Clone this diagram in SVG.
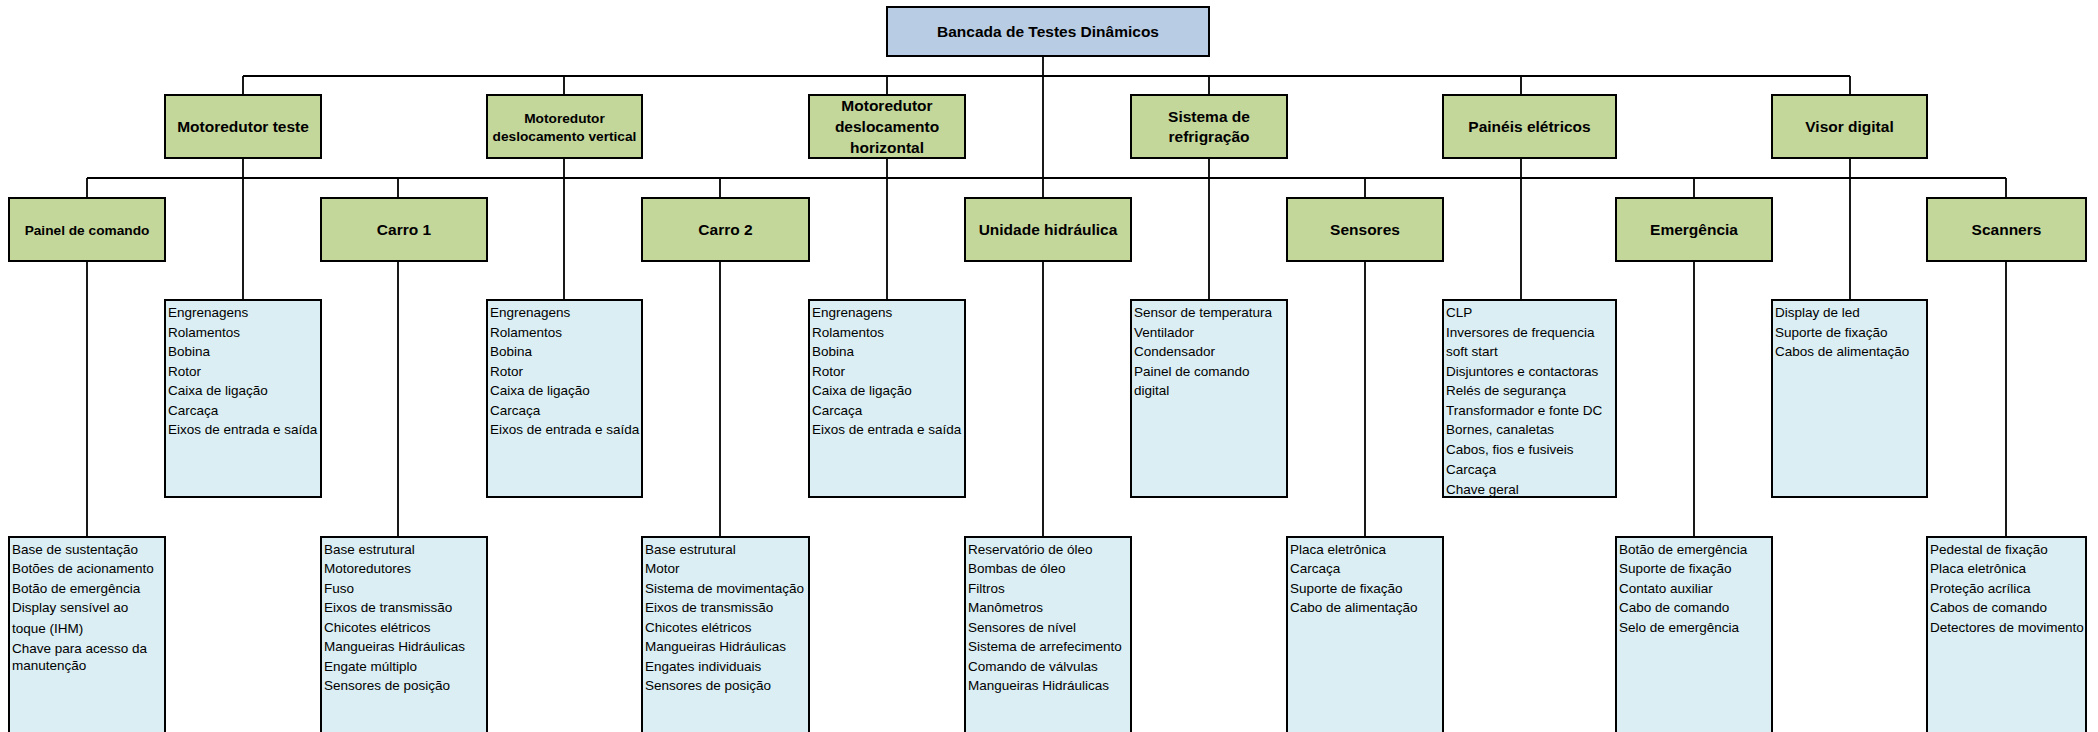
<svg xmlns="http://www.w3.org/2000/svg" width="2098" height="732" viewBox="0 0 2098 732">
<style>
.root{fill:#B8CCE4;stroke:#000;stroke-width:2}
.box{fill:#C4D79B;stroke:#000;stroke-width:2}
.det{fill:#DAEEF3;stroke:#000;stroke-width:2}
.t{font-family:"Liberation Sans",Arial,sans-serif;font-weight:bold;font-size:15.5px;fill:#000;text-anchor:middle}
.ts{font-size:13.7px}
.d{font-family:"Liberation Sans",Arial,sans-serif;font-size:13.5px;fill:#000}
.c{stroke:#000;stroke-width:1.8;fill:none}
</style>
<rect width="2098" height="732" fill="#fff"/>
<g id="connectors">
<path class="c" d="M1043 56V198"/>
<path class="c" d="M243 76H1850"/>
<path class="c" d="M243 76V95M564 76V95M887 76V95M1209 76V95M1521 76V95M1850 76V95"/>
<path class="c" d="M243 158V300M564 158V300M887 158V300M1209 158V300M1521 158V300M1850 158V300"/>
<path class="c" d="M87 178H2006"/>
<path class="c" d="M87 178V198M398 178V198M720 178V198M1365 178V198M1694 178V198M2006 178V198"/>
<path class="c" d="M87 261V537M398 261V537M720 261V537M1043 261V537M1365 261V537M1694 261V537M2006 261V537"/>
</g>
<g id="root"><rect class="root" x="887" y="7" width="322" height="49"/><text class="t" x="1048" y="37">Bancada de Testes Dinâmicos</text></g>
<g id="motoredutor-teste"><rect class="box" x="165" y="95" width="156" height="63"/><text class="t" x="243" y="132">Motoredutor teste</text></g>
<g id="motoredutor-vertical"><rect class="box" x="487" y="95" width="155" height="63"/><text class="t ts" x="564.5" y="123">Motoredutor</text><text class="t ts" x="564.5" y="141">deslocamento vertical</text></g>
<g id="motoredutor-horizontal"><rect class="box" x="809" y="95" width="156" height="63"/><text class="t" x="887" y="111">Motoredutor</text><text class="t" x="887" y="132">deslocamento</text><text class="t" x="887" y="152.5">horizontal</text></g>
<g id="sistema-refrigracao"><rect class="box" x="1131" y="95" width="156" height="63"/><text class="t" x="1209" y="122">Sistema de</text><text class="t" x="1209" y="142">refrigração</text></g>
<g id="paineis-eletricos"><rect class="box" x="1443" y="95" width="173" height="63"/><text class="t" x="1529.5" y="132">Painéis elétricos</text></g>
<g id="visor-digital"><rect class="box" x="1772" y="95" width="155" height="63"/><text class="t" x="1849.5" y="132">Visor digital</text></g>
<g id="painel-comando"><rect class="box" x="9" y="198" width="156" height="63"/><text class="t ts" x="87" y="234.5">Painel de comando</text></g>
<g id="carro-1"><rect class="box" x="321" y="198" width="166" height="63"/><text class="t" x="404" y="234.5">Carro 1</text></g>
<g id="carro-2"><rect class="box" x="642" y="198" width="167" height="63"/><text class="t" x="725.5" y="234.5">Carro 2</text></g>
<g id="unidade-hidraulica"><rect class="box" x="965" y="198" width="166" height="63"/><text class="t" x="1048" y="234.5">Unidade hidráulica</text></g>
<g id="sensores"><rect class="box" x="1287" y="198" width="156" height="63"/><text class="t" x="1365" y="234.5">Sensores</text></g>
<g id="emergencia"><rect class="box" x="1616" y="198" width="156" height="63"/><text class="t" x="1694" y="234.5">Emergência</text></g>
<g id="scanners"><rect class="box" x="1927" y="198" width="159" height="63"/><text class="t" x="2006.5" y="234.5">Scanners</text></g>
<g id="det-motoredutor-teste"><rect class="det" x="165" y="300" width="156" height="197"/><text class="d"><tspan x="168" y="317">Engrenagens</tspan><tspan x="168" y="336.5">Rolamentos</tspan><tspan x="168" y="356">Bobina</tspan><tspan x="168" y="375.5">Rotor</tspan><tspan x="168" y="395">Caixa de ligação</tspan><tspan x="168" y="414.5">Carcaça</tspan><tspan x="168" y="434">Eixos de entrada e saída</tspan></text></g>
<g id="det-motoredutor-vertical"><rect class="det" x="487" y="300" width="155" height="197"/><text class="d"><tspan x="490" y="317">Engrenagens</tspan><tspan x="490" y="336.5">Rolamentos</tspan><tspan x="490" y="356">Bobina</tspan><tspan x="490" y="375.5">Rotor</tspan><tspan x="490" y="395">Caixa de ligação</tspan><tspan x="490" y="414.5">Carcaça</tspan><tspan x="490" y="434">Eixos de entrada e saída</tspan></text></g>
<g id="det-motoredutor-horizontal"><rect class="det" x="809" y="300" width="156" height="197"/><text class="d"><tspan x="812" y="317">Engrenagens</tspan><tspan x="812" y="336.5">Rolamentos</tspan><tspan x="812" y="356">Bobina</tspan><tspan x="812" y="375.5">Rotor</tspan><tspan x="812" y="395">Caixa de ligação</tspan><tspan x="812" y="414.5">Carcaça</tspan><tspan x="812" y="434">Eixos de entrada e saída</tspan></text></g>
<g id="det-sistema-refrigracao"><rect class="det" x="1131" y="300" width="156" height="197"/><text class="d"><tspan x="1134" y="317">Sensor de temperatura</tspan><tspan x="1134" y="336.5">Ventilador</tspan><tspan x="1134" y="356">Condensador</tspan><tspan x="1134" y="375.5">Painel de comando</tspan><tspan x="1134" y="395">digital</tspan></text></g>
<g id="det-paineis-eletricos"><rect class="det" x="1443" y="300" width="173" height="197"/><text class="d"><tspan x="1446" y="317">CLP</tspan><tspan x="1446" y="336.5">Inversores de frequencia</tspan><tspan x="1446" y="356">soft start</tspan><tspan x="1446" y="375.5">Disjuntores e contactoras</tspan><tspan x="1446" y="395">Relés de segurança</tspan><tspan x="1446" y="414.5">Transformador e fonte DC</tspan><tspan x="1446" y="434">Bornes, canaletas</tspan><tspan x="1446" y="453.5">Cabos, fios e fusiveis</tspan><tspan x="1446" y="473.5">Carcaça</tspan><tspan x="1446" y="493.5">Chave geral</tspan></text></g>
<g id="det-visor-digital"><rect class="det" x="1772" y="300" width="155" height="197"/><text class="d"><tspan x="1775" y="317">Display de led</tspan><tspan x="1775" y="336.5">Suporte de fixação</tspan><tspan x="1775" y="356">Cabos de alimentação</tspan></text></g>
<g id="det-painel-comando"><rect class="det" x="9" y="537" width="156" height="220"/><text class="d"><tspan x="12" y="553.5">Base de sustentação</tspan><tspan x="12" y="573">Botões de acionamento</tspan><tspan x="12" y="592.5">Botão de emergência</tspan><tspan x="12" y="612">Display sensível ao</tspan><tspan x="12" y="632.5">toque (IHM)</tspan><tspan x="12" y="652.5">Chave para acesso da</tspan><tspan x="12" y="670">manutenção</tspan></text></g>
<g id="det-carro-1"><rect class="det" x="321" y="537" width="166" height="220"/><text class="d"><tspan x="324" y="553.5">Base estrutural</tspan><tspan x="324" y="573">Motoredutores</tspan><tspan x="324" y="592.5">Fuso</tspan><tspan x="324" y="612">Eixos de transmissão</tspan><tspan x="324" y="631.5">Chicotes elétricos</tspan><tspan x="324" y="651">Mangueiras Hidráulicas</tspan><tspan x="324" y="670.5">Engate múltiplo</tspan><tspan x="324" y="690">Sensores de posição</tspan></text></g>
<g id="det-carro-2"><rect class="det" x="642" y="537" width="167" height="220"/><text class="d"><tspan x="645" y="553.5">Base estrutural</tspan><tspan x="645" y="573">Motor</tspan><tspan x="645" y="592.5">Sistema de movimentação</tspan><tspan x="645" y="612">Eixos de transmissão</tspan><tspan x="645" y="631.5">Chicotes elétricos</tspan><tspan x="645" y="651">Mangueiras Hidráulicas</tspan><tspan x="645" y="670.5">Engates individuais</tspan><tspan x="645" y="690">Sensores de posição</tspan></text></g>
<g id="det-unidade-hidraulica"><rect class="det" x="965" y="537" width="166" height="220"/><text class="d"><tspan x="968" y="553.5">Reservatório de óleo</tspan><tspan x="968" y="573">Bombas de óleo</tspan><tspan x="968" y="592.5">Filtros</tspan><tspan x="968" y="612">Manômetros</tspan><tspan x="968" y="631.5">Sensores de nível</tspan><tspan x="968" y="651">Sistema de arrefecimento</tspan><tspan x="968" y="670.5">Comando de válvulas</tspan><tspan x="968" y="690">Mangueiras Hidráulicas</tspan></text></g>
<g id="det-sensores"><rect class="det" x="1287" y="537" width="156" height="220"/><text class="d"><tspan x="1290" y="553.5">Placa eletrônica</tspan><tspan x="1290" y="573">Carcaça</tspan><tspan x="1290" y="592.5">Suporte de fixação</tspan><tspan x="1290" y="612">Cabo de alimentação</tspan></text></g>
<g id="det-emergencia"><rect class="det" x="1616" y="537" width="156" height="220"/><text class="d"><tspan x="1619" y="553.5">Botão de emergência</tspan><tspan x="1619" y="573">Suporte de fixação</tspan><tspan x="1619" y="592.5">Contato auxiliar</tspan><tspan x="1619" y="612">Cabo de comando</tspan><tspan x="1619" y="631.5">Selo de emergência</tspan></text></g>
<g id="det-scanners"><rect class="det" x="1927" y="537" width="159" height="220"/><text class="d"><tspan x="1930" y="553.5">Pedestal de fixação</tspan><tspan x="1930" y="573">Placa eletrônica</tspan><tspan x="1930" y="592.5">Proteção acrílica</tspan><tspan x="1930" y="612">Cabos de comando</tspan><tspan x="1930" y="631.5">Detectores de movimento</tspan></text></g>
</svg>
